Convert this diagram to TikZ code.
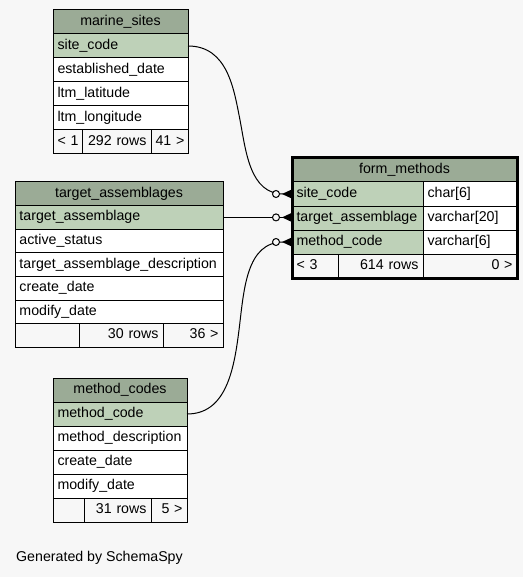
\documentclass[tikz,border=0pt]{standalone}
\usepackage{fontspec}
\setmainfont{Liberation Sans}
\usetikzlibrary{arrows.meta}
\definecolor{bgc}{HTML}{F7F7F7}
\definecolor{hdr}{HTML}{9BAB96}
\definecolor{keyc}{HTML}{BED1B8}
\newcommand\mkcell[8]{\node[cell,fill=#6,minimum width=#4pt,minimum height=#5pt,text width=#4pt-9pt,align=#7] (#1) at (#2,#3) {\mbox{#8}};}
\begin{document}
\begin{tikzpicture}[x=1pt,y=-1pt,
  cell/.style={draw=black,line width=1pt,anchor=north west,inner xsep=4.5pt,inner ysep=0pt,outer sep=0pt,
    font=\fontsize{14.2}{16}\selectfont,text height=10pt,text depth=3pt},
  fk/.style={line width=1pt,-{Circle[fill=bgc,length=8pt,width=8pt,sep=2pt]Triangle[reversed,length=10pt,width=9pt]}},
  thick border/.style={draw=black,line width=3pt}]
\useasboundingbox[fill=bgc] (0,0) rectangle (523,577);
% marine_sites
\mkcell{ms_h}{53}{10}{135}{24}{hdr}{center}{marine\_sites}
\mkcell{ms_site}{53}{34}{135}{24}{keyc}{left}{site\_code}
\mkcell{ms_est}{53}{58}{135}{24}{white}{left}{established\_date}
\mkcell{ms_lat}{53}{82}{135}{24}{white}{left}{ltm\_latitude}
\mkcell{ms_lon}{53}{106}{135}{24}{white}{left}{ltm\_longitude}
\mkcell{ms_f1}{53}{130}{29}{24}{bgc}{left}{< 1}
\mkcell{ms_f2}{82}{130}{69}{24}{bgc}{right}{292 rows}
\mkcell{ms_f3}{151}{130}{37}{24}{bgc}{right}{41 >}
% target_assemblages
\mkcell{ta_h}{15}{182}{208}{23.6}{hdr}{center}{target\_assemblages}
\mkcell{ta_ta}{15}{205.6}{208}{23.6}{keyc}{left}{target\_assemblage}
\mkcell{ta_as}{15}{229.2}{208}{23.6}{white}{left}{active\_status}
\mkcell{ta_desc}{15}{252.8}{208}{23.6}{white}{left}{target\_assemblage\_description}
\mkcell{ta_cd}{15}{276.4}{208}{23.6}{white}{left}{create\_date}
\mkcell{ta_md}{15}{300}{208}{23.6}{white}{left}{modify\_date}
\mkcell{ta_f1}{15}{323.6}{64}{23.6}{bgc}{left}{}
\mkcell{ta_f2}{79}{323.6}{84}{23.6}{bgc}{right}{30 rows}
\mkcell{ta_f3}{163}{323.6}{60}{23.6}{bgc}{right}{36 >}
% method_codes
\mkcell{mc_h}{53}{378}{134}{24}{hdr}{center}{method\_codes}
\mkcell{mc_code}{53}{402}{134}{24}{keyc}{left}{method\_code}
\mkcell{mc_desc}{53}{426}{134}{24}{white}{left}{method\_description}
\mkcell{mc_cd}{53}{450}{134}{24}{white}{left}{create\_date}
\mkcell{mc_md}{53}{474}{134}{24}{white}{left}{modify\_date}
\mkcell{mc_f1}{53}{498}{31}{24}{bgc}{left}{}
\mkcell{mc_f2}{84}{498}{67}{24}{bgc}{right}{31 rows}
\mkcell{mc_f3}{151}{498}{36}{24}{bgc}{right}{5 >}
% form_methods
\mkcell{fm_h}{292}{158}{225}{24}{hdr}{center}{form\_methods}
\mkcell{fm_site}{292}{182}{131}{24}{keyc}{left}{site\_code}
\mkcell{fm_site_t}{423}{182}{94}{24}{white}{left}{char[6]}
\mkcell{fm_ta}{292}{206}{131}{24}{keyc}{left}{target\_assemblage}
\mkcell{fm_ta_t}{423}{206}{94}{24}{white}{left}{varchar[20]}
\mkcell{fm_code}{292}{230}{131}{24}{keyc}{left}{method\_code}
\mkcell{fm_code_t}{423}{230}{94}{24}{white}{left}{varchar[6]}
\mkcell{fm_f1}{292}{254}{46}{24}{bgc}{left}{< 3}
\mkcell{fm_f2}{338}{254}{85}{24}{bgc}{right}{614 rows}
\mkcell{fm_f3}{423}{254}{94}{24}{bgc}{right}{0 >}
% connectors
\draw[fk] (ms_site.east) .. controls (228,46) and (234,90) .. (240,120)
  .. controls (246,152) and (250,194) .. (fm_site.west);
\draw[fk] (ta_ta.east) -- (ta_ta.east -| fm_ta.west);
\draw[fk] (mc_code.east) .. controls (226,414) and (234,370) .. (239,330)
  .. controls (244,290) and (246,242) .. (fm_code.west);
\draw[thick border] (fm_h.north west) rectangle (fm_f3.south east);
% footer text
\node[anchor=west,inner sep=0pt,font=\fontsize{14.2}{16}\selectfont] (gen) at (16,557.5) {Generated by SchemaSpy};
\end{tikzpicture}
\end{document}
